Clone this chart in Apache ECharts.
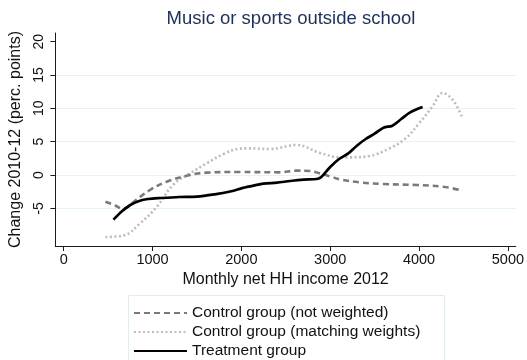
<!DOCTYPE html>
<html>
<head>
<meta charset="utf-8">
<script src="https://cdn.jsdelivr.net/npm/echarts@6/dist/echarts.min.js"></script>
<style>
  html, body { margin: 0; padding: 0; background: #fff; }
  #chart { width: 527px; height: 360px; }
</style>
</head>
<body>
<div id="chart"></div>
<script>
// Local smooths of the 2010-12 change against household income
const treatmentIncome = [560, 650, 750, 850, 950, 1100, 1300, 1500, 1700, 1900, 2000, 2100, 2250, 2400, 2550, 2700, 2850, 2900, 3000, 3100, 3200, 3300, 3400, 3500, 3600, 3700, 3800, 3900, 4040];
const treatmentChange = [-6.7, -5.5, -4.5, -3.9, -3.6, -3.45, -3.3, -3.25, -2.9, -2.4, -2.0, -1.7, -1.3, -1.15, -0.9, -0.7, -0.6, -0.3, 1.2, 2.4, 3.2, 4.4, 5.4, 6.2, 7.1, 7.4, 8.4, 9.4, 10.2];

const unweightedIncome = [470, 570, 670, 800, 970, 1160, 1420, 1610, 1980, 2430, 2620, 2770, 2880, 3000, 3110, 3330, 3590, 3970, 4270, 4490];
const unweightedChange = [-4.0, -4.5, -5.1, -3.9, -2.25, -1.0, 0.0, 0.35, 0.45, 0.4, 0.65, 0.6, 0.25, -0.2, -0.65, -1.1, -1.35, -1.5, -1.75, -2.35];

const matchedIncome = [470, 670, 860, 1050, 1230, 1420, 1610, 1800, 1980, 2060, 2320, 2620, 2880, 3110, 3220, 3440, 3670, 3850, 4000, 4150, 4265, 4380, 4490];
const matchedChange = [-9.3, -9.1, -7.25, -4.75, -1.5, 0.25, 1.75, 3.15, 3.95, 4.0, 3.9, 4.5, 3.35, 2.65, 2.65, 2.85, 4.0, 5.5, 7.75, 10.25, 12.3, 11.25, 8.5];

const xTicks = [0, 1000, 2000, 3000, 4000, 5000];
const yTicks = [-5, 0, 5, 10, 15, 20];
const yGridTicks = [-5, 0, 5, 10, 15];

const pairs = (xs, ys) => xs.map((x, i) => [x, ys[i]]);

const FONT = '"Liberation Sans", Arial, sans-serif';
const AXIS_COLOR = '#1a1a1a';

const chart = echarts.init(document.getElementById('chart'), null, { renderer: 'canvas' });

chart.setOption({
  animation: false,
  backgroundColor: '#ffffff',
  textStyle: { fontFamily: FONT },
  title: {
    text: 'Music or sports outside school',
    left: 286,
    textAlign: 'center',
    top: 4,
    textStyle: { fontFamily: FONT, fontSize: 18.5, fontWeight: 'normal', color: '#1e2f5a' }
  },
  grid: { left: 55, right: 10, top: 33, bottom: 114, containLabel: false },
  graphic: [{
    type: 'rect',
    shape: { x: 128.5, y: 295.5, width: 316, height: 80 },
    style: { fill: '#ffffff', stroke: '#e3ecec', lineWidth: 1 },
    z: -1
  }],
  legend: {
    orient: 'vertical',
    left: 133,
    top: 305,
    itemWidth: 53,
    itemHeight: 18,
    itemGap: 3,
    padding: 0,
    itemStyle: { opacity: 0 },
    textStyle: { fontFamily: FONT, fontSize: 15.5, color: '#111' },
    data: ['Control group (not weighted)', 'Control group (matching weights)', 'Treatment group']
  },
  xAxis: {
    type: 'value',
    min: -93,
    max: 5089,
    name: 'Monthly net HH income 2012',
    nameLocation: 'middle',
    nameGap: 21.5,
    nameTextStyle: { fontFamily: FONT, fontSize: 16, color: '#111' },
    axisLine: { show: true, onZero: false, lineStyle: { color: AXIS_COLOR, width: 1 } },
    axisTick: { show: true, length: 5, customValues: xTicks, lineStyle: { color: AXIS_COLOR } },
    axisLabel: { customValues: xTicks, formatter: v => String(v), fontFamily: FONT, fontSize: 14.5, color: '#111', margin: 6 },
    splitLine: { show: false }
  },
  yAxis: [{
    type: 'value',
    min: -10.65,
    max: 21.3,
    name: 'Change 2010-12 (perc. points)',
    nameLocation: 'middle',
    nameGap: 31,
    nameTextStyle: { fontFamily: FONT, fontSize: 16, color: '#111' },
    axisLine: { show: true, onZero: false, lineStyle: { color: AXIS_COLOR, width: 1 } },
    axisTick: { show: true, length: 5, customValues: yTicks, lineStyle: { color: AXIS_COLOR } },
    axisLabel: { customValues: yTicks, rotate: 90, fontFamily: FONT, fontSize: 14, color: '#111', margin: 9.5 },
    splitLine: { show: false }
  }, {
    type: 'value',
    min: -10.65,
    max: 21.3,
    position: 'left',
    axisLine: { show: false },
    axisTick: { show: false, customValues: yGridTicks },
    axisLabel: { show: false, customValues: yGridTicks },
    splitLine: { show: true, lineStyle: { color: '#e8f0f1', width: 1 } }
  }],
  series: [{
    name: 'Control group (not weighted)',
    type: 'line',
    data: pairs(unweightedIncome, unweightedChange),
    smooth: 0.4,
    symbol: 'none',
    z: 3,
    lineStyle: { color: '#7a7a7a', width: 2.6, type: [6, 4] },
    itemStyle: { color: '#7a7a7a' }
  }, {
    name: 'Control group (matching weights)',
    type: 'line',
    data: pairs(matchedIncome, matchedChange),
    smooth: 0.4,
    symbol: 'none',
    z: 2,
    lineStyle: { color: '#bdbdbd', width: 2.6, type: [2, 2.5] },
    itemStyle: { color: '#bdbdbd' }
  }, {
    name: 'Treatment group',
    type: 'line',
    data: pairs(treatmentIncome, treatmentChange),
    smooth: 0.3,
    symbol: 'none',
    z: 4,
    lineStyle: { color: '#000000', width: 2.7 },
    itemStyle: { color: '#000000' }
  }]
});
</script>
</body>
</html>
